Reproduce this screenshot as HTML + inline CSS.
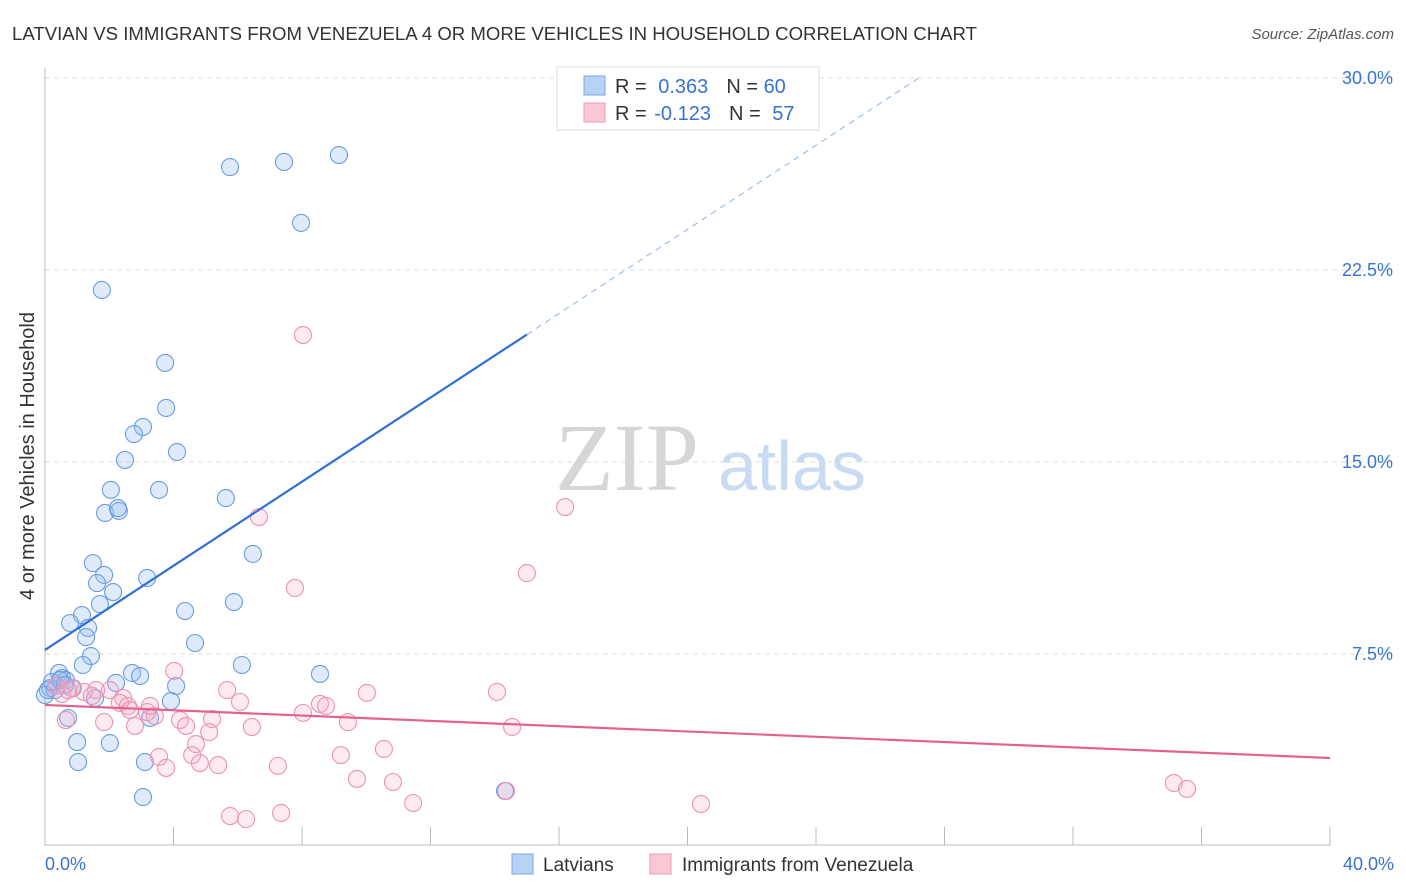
<!DOCTYPE html>
<html><head><meta charset="utf-8"><style>
body{margin:0;background:#fff;font-family:"Liberation Sans",sans-serif}
svg{display:block}
</style></head><body>
<svg id="chart" width="1406" height="892">
<text x="12" y="40" font-size="18.6" fill="#333">LATVIAN VS IMMIGRANTS FROM VENEZUELA 4 OR MORE VEHICLES IN HOUSEHOLD CORRELATION CHART</text>
<text x="1394" y="39" font-size="15" fill="#555" font-style="italic" text-anchor="end">Source: ZipAtlas.com</text>
<g id="grid"></g>
<text x="555" y="490" font-size="96" fill="#d6d6d6" font-family="Liberation Serif,serif">ZIP</text>
<text x="718" y="490" font-size="70" fill="#c9daf3">atlas</text>
<g id="axes"></g>
<g id="pts"></g>
<g id="trend"></g>
<text x="34" y="456" font-size="20" fill="#333" text-anchor="middle" transform="rotate(-90 34 456)">4 or more Vehicles in Household</text>
<g>
<rect x="557" y="67" width="262" height="63" fill="#fff" stroke="#ddd"/>
<rect x="584" y="76" width="21" height="19" fill="#b8d2f5" stroke="#7aa6e4"/>
<rect x="584" y="103" width="21" height="19" fill="#fbc8d6" stroke="#ef9ab5"/>
<text x="615" y="93" font-size="20" fill="#333">R = <tspan fill="#3873d4" dx="6">0.363</tspan><tspan dx="18">N = </tspan><tspan fill="#3873d4">60</tspan></text>
<text x="615" y="120" font-size="20" fill="#333">R = <tspan fill="#3873d4" dx="2">-0.123</tspan><tspan dx="18">N = </tspan><tspan fill="#3873d4" dx="6">57</tspan></text>
</g>
<g>
<rect x="512" y="854" width="21" height="20" fill="#b8d2f5" stroke="#7aa6e4"/>
<text x="543" y="871" font-size="19" fill="#333">Latvians</text>
<rect x="650" y="854" width="21" height="20" fill="#fbc8d6" stroke="#ef9ab5"/>
<text x="682" y="871" font-size="19" fill="#333">Immigrants from Venezuela</text>
</g>
</svg>
<script>
const blueX=[5.76,7.44,9.15,7.97,1.77,3.74,3.77,3.05,2.77,4.11,2.49,3.55,2.05,5.63,1.87,2.30,2.27,6.47,1.49,1.84,3.18,1.62,2.12,1.71,5.88,4.36,1.15,0.78,1.34,1.28,4.67,1.43,1.18,6.13,8.56,2.71,2.96,0.44,0.53,2.21,4.08,0.65,0.16,0.31,0.84,1.56,3.92,0,3.27,0.72,1.0,2.02,1.03,3.11,3.05,14.32,0.09,0.22,0.47,0.62];
const blueY=[26.52,26.72,26.99,24.34,21.72,18.87,17.11,16.37,16.09,15.39,15.08,13.91,13.91,13.59,13.01,13.09,13.20,11.41,11.05,10.59,10.47,10.27,9.92,9.45,9.53,9.18,9.02,8.71,8.52,8.16,7.93,7.42,7.07,7.07,6.72,6.76,6.64,6.76,6.56,6.37,6.25,6.48,6.17,6.09,6.17,5.78,5.66,5.9,5.0,5.0,4.06,4.02,3.28,3.28,1.91,2.15,6.09,6.41,6.48,6.29];
const pinkX=[8.03,16.19,6.66,15.0,7.78,4.02,5.67,14.07,10.02,8.56,8.75,6.07,8.03,9.43,5.20,4.20,4.39,1.84,2.80,6.44,14.54,5.11,10.55,9.21,4.70,3.55,4.58,4.82,5.39,7.25,3.77,9.71,10.83,11.46,5.76,6.26,7.35,20.42,35.14,35.55,14.35,2.02,1.59,1.21,0.87,0.65,2.43,2.33,2.58,3.42,3.18,3.27,0.34,0.53,1.46,2.65,0.72];
const pinkY=[19.96,13.24,12.85,10.66,10.08,6.84,6.09,6.02,5.98,5.55,5.47,5.63,5.20,4.84,4.96,4.92,4.69,4.84,4.69,4.65,4.65,4.45,3.79,3.55,3.98,3.48,3.55,3.24,3.16,3.13,3.05,2.62,2.50,1.68,1.17,1.05,1.29,1.64,2.46,2.23,2.15,6.09,6.09,6.02,6.17,4.92,5.78,5.59,5.47,5.08,5.23,5.47,6.25,5.94,5.86,5.31,6.09];
const yTicks=[7.5,15,22.5,30];
const yTickLabels=["7.5%","15.0%","22.5%","30.0%"];
const xTicks=[0,4,8,12,16,20,24,28,32,36,40];
const blueTrend=[7.66,0.8213];
const pinkTrend=[5.51,-0.0518];
const NS="http://www.w3.org/2000/svg";
const X=v=>45+v*32.125, Y=v=>846-v*25.6;
function mk(tag,attrs,parent){const e=document.createElementNS(NS,tag);for(const k in attrs)e.setAttribute(k,attrs[k]);parent.appendChild(e);return e;}
const grid=document.getElementById('grid'),axes=document.getElementById('axes'),pts=document.getElementById('pts'),trend=document.getElementById('trend');
yTicks.forEach((t,i)=>{
 const l=mk('line',{x1:45,x2:1394,y1:Y(t),y2:Y(t),stroke:'#ddd','stroke-dasharray':'5,4'},grid);
 
 
 const tx=mk('text',{x:1393,y:Y(t)+6,'font-size':18,fill:'#3873d4','text-anchor':'end'},grid);
 tx.textContent=yTickLabels[i];
 
 
});
const ya=mk('line',{x1:45,x2:45,y1:68,y2:846,stroke:'#bbb'},axes);


const xa=mk('line',{x1:45,x2:1330,y1:845,y2:845,stroke:'#bbb'},axes);


xTicks.forEach(t=>{
 const l=mk('line',{x1:X(t),x2:X(t),y1:827,y2:845,stroke:'#bbb'},axes);
 
 
});
const xl0=mk('text',{x:45,y:870,'font-size':18,fill:'#3873d4'},axes);xl0.textContent='0.0%';


const xl1=mk('text',{x:1394,y:870,'font-size':18,fill:'#3873d4','text-anchor':'end'},axes);xl1.textContent='40.0%';


blueX.forEach((v,i)=>{
 const c=mk('circle',{cx:X(v),cy:Y(blueY[i]),r:8.5,fill:'rgba(150,188,242,0.3)',stroke:'#6a9be3','stroke-width':1.1},pts);
 
 
});
pinkX.forEach((v,i)=>{
 const c=mk('circle',{cx:X(v),cy:Y(pinkY[i]),r:8.5,fill:'rgba(248,175,198,0.25)',stroke:'#ec92b2','stroke-width':1.1},pts);
 
 
});
const b1=mk('line',{x1:X(0),y1:Y(blueTrend[0]),x2:X(15),y2:Y(blueTrend[0]+blueTrend[1]*15),stroke:'#2f6fd6','stroke-width':2.2},trend);


const xe=(30-blueTrend[0])/blueTrend[1];
const b2=mk('line',{x1:X(15),y1:Y(blueTrend[0]+blueTrend[1]*15),x2:X(xe),y2:Y(30),stroke:'#8fb2e8','stroke-width':1,'stroke-dasharray':'6,5'},trend);


const p1=mk('line',{x1:X(0),y1:Y(pinkTrend[0]),x2:X(40),y2:Y(pinkTrend[0]+pinkTrend[1]*40),stroke:'#e5608f','stroke-width':2.2},trend);


</script>
</body></html>
